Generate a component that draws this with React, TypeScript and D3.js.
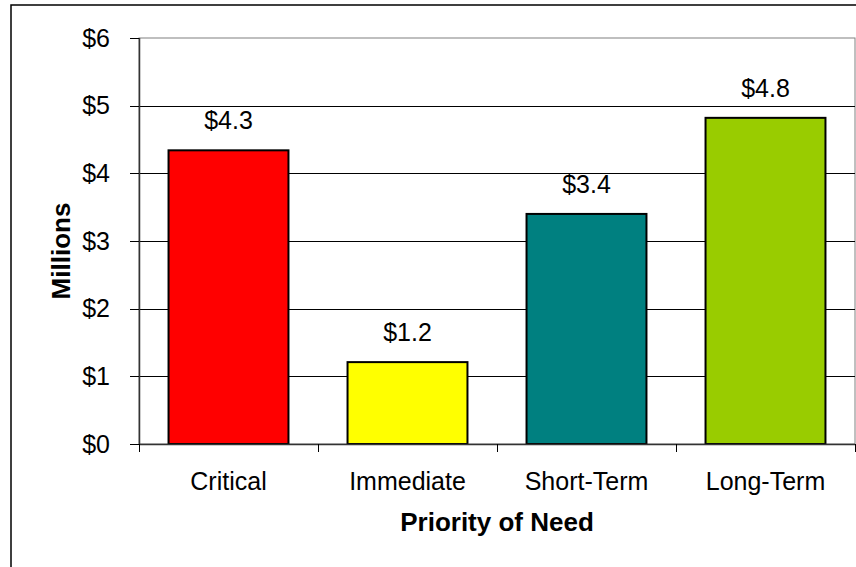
import React from "react";
import * as d3 from "d3";

const categories = ["Critical", "Immediate", "Short-Term", "Long-Term"];
const values = [4.34, 1.21, 3.4, 4.82];
const barColors = ["#FF0000", "#FFFF00", "#008080", "#99CC00"];
const yTicks = [0, 1, 2, 3, 4, 5, 6];

const W = 856;
const H = 567;
const plot = { left: 139, right: 855, top: 38, bottom: 444 };
const FONT = "'Liberation Sans', Arial, sans-serif";
const FS = 25;
const FS_TITLE = 26;

export default function App() {
  const x = d3
    .scaleBand<string>()
    .domain(categories)
    .range([plot.left, plot.right])
    .paddingInner(0.33)
    .paddingOuter(0.165);
  const step = x.step();
  const y = d3.scaleLinear().domain([0, 6]).range([plot.bottom, plot.top]);
  const fmt = (v: number) => `$${v.toFixed(1)}`;

  return (
    <svg
      width={W}
      height={H}
      style={{ position: "absolute", left: 0, top: 0, background: "#fff" }}
      fontFamily={FONT}
    >
      <rect x={0} y={0} width={W} height={H} fill="#fff" />
      {/* chart frame */}
      <rect x={11} y={5} width={W} height={H} fill="none" stroke="#000" strokeWidth={1.5} />

      {/* plot area border */}
      <rect
        x={plot.left}
        y={plot.top}
        width={plot.right - plot.left}
        height={plot.bottom - plot.top}
        fill="none"
        stroke="#808080"
        strokeWidth={1}
      />

      {/* gridlines */}
      {yTicks.slice(1, -1).map((t) => (
        <line
          key={`g${t}`}
          x1={plot.left}
          x2={plot.right}
          y1={Math.round(y(t)) + 0.5}
          y2={Math.round(y(t)) + 0.5}
          stroke="#000"
          strokeWidth={1}
        />
      ))}

      {/* bars */}
      {categories.map((c, i) => (
        <rect
          key={c}
          x={x(c)!}
          y={y(values[i])}
          width={x.bandwidth()}
          height={plot.bottom - y(values[i])}
          fill={barColors[i]}
          stroke="#000"
          strokeWidth={2}
        />
      ))}

      {/* value labels */}
      {categories.map((c, i) => (
        <text
          key={`v${c}`}
          x={x(c)! + x.bandwidth() / 2}
          y={y(values[i]) - 21}
          textAnchor="middle"
          fontSize={FS}
          fill="#000"
        >
          {fmt(values[i])}
        </text>
      ))}

      {/* y axis */}
      <line x1={plot.left + 0.5} x2={plot.left + 0.5} y1={plot.top} y2={plot.bottom} stroke="#333" strokeWidth={1.5} />
      {yTicks.map((t) => (
        <g key={`t${t}`}>
          <line x1={plot.left - 9} x2={plot.left} y1={Math.round(y(t)) + 0.5} y2={Math.round(y(t)) + 0.5} stroke="#000" />
          <text x={plot.left - 29} y={y(t)} dy="0.35em" textAnchor="end" fontSize={FS} fill="#000">
            {`$${t}`}
          </text>
        </g>
      ))}

      {/* x axis */}
      <line x1={plot.left} x2={plot.right} y1={plot.bottom + 0.5} y2={plot.bottom + 0.5} stroke="#333" strokeWidth={1.5} />
      {d3.range(categories.length + 1).map((k) => (
        <line
          key={`xt${k}`}
          x1={plot.left + k * step + 0.5}
          x2={plot.left + k * step + 0.5}
          y1={plot.bottom}
          y2={plot.bottom + 8}
          stroke="#000"
        />
      ))}
      {categories.map((c) => (
        <text key={`c${c}`} x={x(c)! + x.bandwidth() / 2} y={490} textAnchor="middle" fontSize={FS} fill="#000">
          {c}
        </text>
      ))}

      {/* axis titles */}
      <text x={(plot.left + plot.right) / 2} y={531} textAnchor="middle" fontSize={FS_TITLE} fontWeight="bold" fill="#000">
        Priority of Need
      </text>
      <text
        transform={`translate(70,251) rotate(-90)`}
        textAnchor="middle"
        fontSize={FS_TITLE}
        fontWeight="bold"
        fill="#000"
      >
        Millions
      </text>
    </svg>
  );
}
